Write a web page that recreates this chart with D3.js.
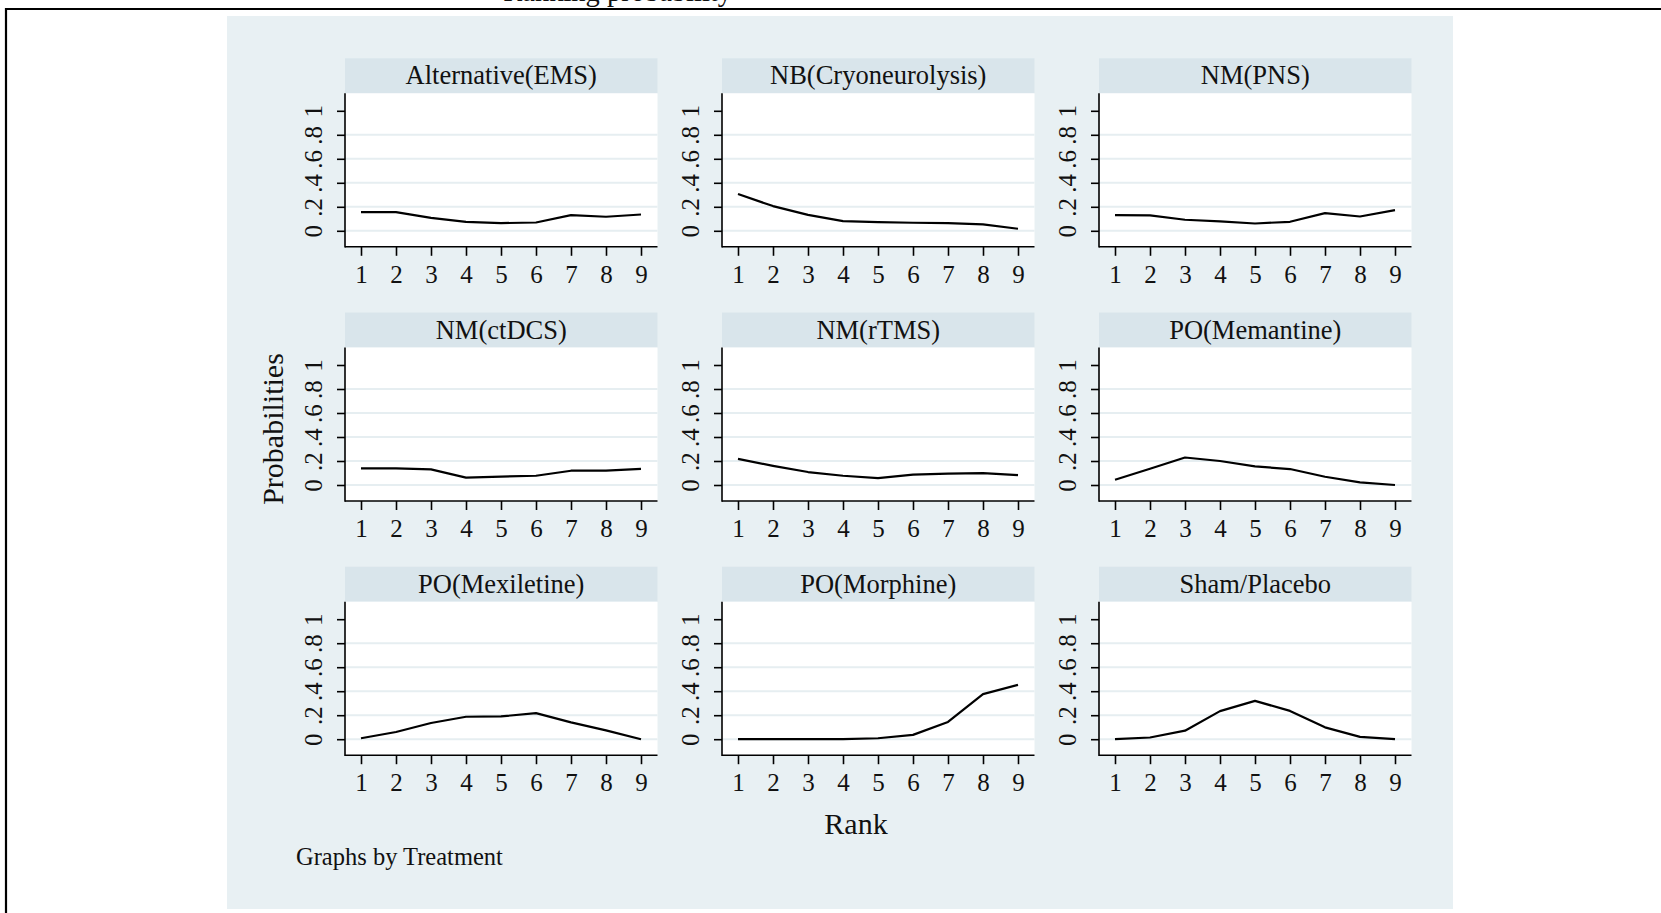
<html>
<head>
<meta charset="utf-8">
<style>
body{margin:0;background:#fff;}
text{font-family:"Liberation Serif","Times New Roman",serif;fill:#111;}
</style>
</head>
<body>
<svg id="graph" width="1661" height="913"></svg>
<script src="https://cdnjs.cloudflare.com/ajax/libs/d3/7.8.5/d3.min.js"></script>
<script>
// data
var treatments = ["Alternative(EMS)","NB(Cryoneurolysis)","NM(PNS)","NM(ctDCS)","NM(rTMS)","PO(Memantine)","PO(Mexiletine)","PO(Morphine)","Sham/Placebo"];
var ranks = [1,2,3,4,5,6,7,8,9];
var emsProb        = [0.156,0.156,0.108,0.075,0.064,0.069,0.130,0.117,0.136];
var cryoProb       = [0.306,0.206,0.133,0.081,0.072,0.067,0.064,0.053,0.017];
var pnsProb        = [0.130,0.128,0.092,0.078,0.061,0.075,0.147,0.119,0.172];
var ctdcsProb      = [0.138,0.138,0.130,0.061,0.070,0.077,0.119,0.119,0.135];
var rtmsProb       = [0.218,0.160,0.108,0.077,0.058,0.086,0.094,0.099,0.083];
var memantineProb  = [0.044,0.135,0.229,0.200,0.155,0.133,0.069,0.022,0.000];
var mexiletineProb = [0.008,0.060,0.135,0.187,0.190,0.217,0.140,0.074,0.000];
var morphineProb   = [0.000,0.000,0.000,0.000,0.008,0.036,0.144,0.376,0.453];
var shamProb       = [0.000,0.014,0.071,0.234,0.319,0.236,0.099,0.019,0.000];
var yTicks = [0,0.2,0.4,0.6,0.8,1];
var yTickLabels = ["0",".2",".4",".6",".8","1"];
var gridTicks = [0,0.2,0.4,0.6,0.8];

var series = [emsProb,cryoProb,pnsProb,ctdcsProb,rtmsProb,memantineProb,mexiletineProb,morphineProb,shamProb];

var svg = d3.select('#graph');

// title cut off at the very top + frame
svg.append('text')
	.attr('x',732).attr('y',0.5)
	.attr('text-anchor','end')
	.style('font-size','28.5px')
	.text('Ranking probability');
svg.append('path')
	.attr('d','M6,913V9H1661')
	.attr('fill','none')
	.attr('stroke','#000')
	.attr('stroke-width',2.2);

// graph region
svg.append('rect')
	.attr('x',227).attr('y',16)
	.attr('width',1226).attr('height',893)
	.attr('fill','#e8f0f3');

var colStep = 377, rowStep = 254.2;
var headH = 35, plotW = 312.5;

treatments.forEach(function(name,i){
	var col = i%3, row = Math.floor(i/3);
	var L = 345 + col*colStep;
	var T = 58.3 + row*rowStep;
	var g = svg.append('g');

	var x = d3.scaleLinear().domain([1,9]).range([L+16,L+296]);
	var y = d3.scaleLinear().domain([0,1]).range([T+172.5,T+52.5]);

	// header strip
	g.append('rect')
		.attr('x',L).attr('y',T)
		.attr('width',plotW).attr('height',headH)
		.attr('fill','#d9e5eb');
	g.append('text')
		.attr('x',L+plotW/2).attr('y',T+26)
		.attr('text-anchor','middle')
		.style('font-size','26.5px')
		.text(name);

	// plot region
	g.append('rect')
		.attr('x',L).attr('y',T+headH)
		.attr('width',plotW).attr('height',153.5)
		.attr('fill','#fff');

	g.selectAll('line.grid')
		.data(gridTicks)
		.enter()
		.append('line')
		.attr('x1',L).attr('x2',L+plotW)
		.attr('y1',function(d){return y(d);})
		.attr('y2',function(d){return y(d);})
		.attr('stroke','#e6eef1')
		.attr('stroke-width',2);

	// y axis
	var ya = g.append('g')
		.attr('transform','translate('+L+',0)')
		.call(d3.axisLeft(y).tickValues(yTicks).tickSize(8).tickSizeOuter(0)
			.tickFormat(function(d,j){return yTickLabels[j];}));
	ya.select('.domain').remove();
	ya.selectAll('.tick line').attr('stroke','#000').attr('stroke-width',1.6);
	ya.selectAll('.tick text')
		.attr('transform','rotate(-90)')
		.attr('x',0).attr('y',-23).attr('dy',null)
		.attr('text-anchor','middle')
		.attr('fill','#111')
		.style('font-size','25px')
		.style('font-family','"Liberation Serif","Times New Roman",serif');

	// x axis
	var xa = g.append('g')
		.attr('transform','translate(0,'+(T+188.5)+')')
		.call(d3.axisBottom(x).tickValues(ranks).tickSize(9).tickSizeOuter(0).tickFormat(d3.format('d')));
	xa.select('.domain').remove();
	xa.selectAll('.tick line').attr('stroke','#000').attr('stroke-width',1.6);
	xa.selectAll('.tick text')
		.attr('y',36).attr('dy',null)
		.attr('fill','#111')
		.style('font-size','25px')
		.style('font-family','"Liberation Serif","Times New Roman",serif');

	g.append('line')
		.attr('x1',L).attr('x2',L)
		.attr('y1',T+headH).attr('y2',T+189.3)
		.attr('stroke','#000').attr('stroke-width',1.6);
	g.append('line')
		.attr('x1',L).attr('x2',L+plotW)
		.attr('y1',T+188.5).attr('y2',T+188.5)
		.attr('stroke','#000').attr('stroke-width',1.6);

	var line = d3.line()
		.x(function(d,j){return x(ranks[j]);})
		.y(function(d){return y(d);});
	g.append('path')
		.datum(series[i])
		.attr('d',line)
		.attr('fill','none')
		.attr('stroke','#000')
		.attr('stroke-width',2.2)
		.attr('stroke-linejoin','round');
});

svg.append('text')
	.attr('transform','translate(283,429) rotate(-90)')
	.attr('text-anchor','middle')
	.style('font-size','30px')
	.text('Probabilities');
svg.append('text')
	.attr('x',856).attr('y',834)
	.attr('text-anchor','middle')
	.style('font-size','30px')
	.text('Rank');
svg.append('text')
	.attr('x',296).attr('y',865)
	.style('font-size','24.5px')
	.text('Graphs by Treatment');
</script>
</body>
</html>
